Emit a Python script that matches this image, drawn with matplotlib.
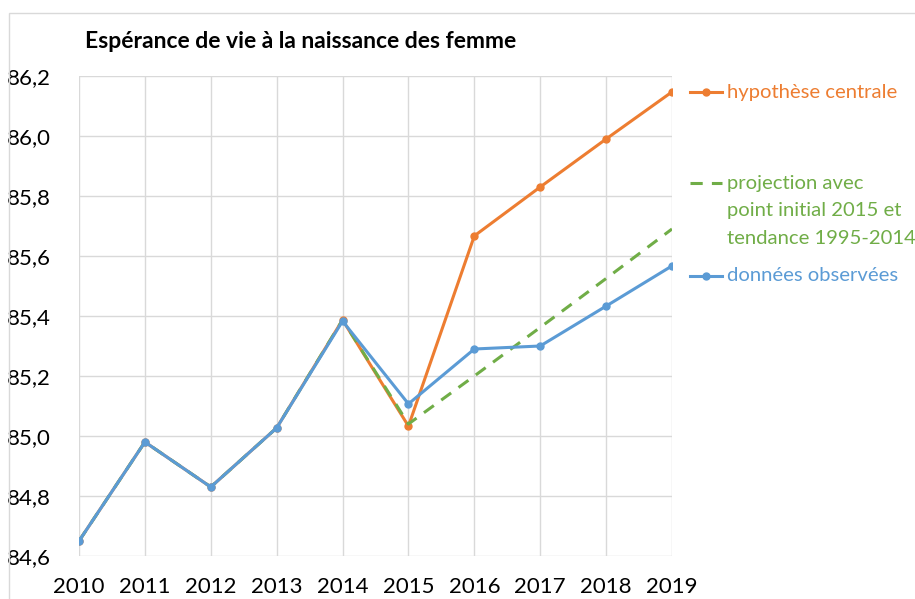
import matplotlib.pyplot as plt
from matplotlib.lines import Line2D
from matplotlib.patches import Rectangle

plt.rcParams['font.family'] = ['Lato', 'DejaVu Sans']

# Données
years = [2010, 2011, 2012, 2013, 2014, 2015, 2016, 2017, 2018, 2019]
observees = [84.65, 84.98, 84.83, 85.027, 85.383, 85.107, 85.29, 85.30, 85.433, 85.567]
hypothese = [84.65, 84.98, 84.83, 85.027, 85.387, 85.033, 85.667, 85.83, 85.99, 86.147]
projection = [84.65, 84.98, 84.83, 85.027, 85.387, 85.04, 85.20, 85.362, 85.525, 85.69]
yticks = [84.6, 84.8, 85.0, 85.2, 85.4, 85.6, 85.8, 86.0, 86.2]

orange = '#ED7D31'
green = '#70AD47'
blue = '#5B9BD5'

fig = plt.figure(figsize=(9.15, 5.99), dpi=100)
ax = fig.add_axes([79/915, 1 - 556/599, (672-79)/915, (556-76)/599])

# Rahmen des Diagramms (leicht grau)
fig.patches.append(Rectangle((9/915, -0.1), 1.2, 1 - 13/599 + 0.1, transform=fig.transFigure,
                             fill=False, edgecolor='#d9d9d9', linewidth=1))

ax.plot(years, hypothese, color=orange, lw=2.2, marker='o', ms=5, zorder=3)
ax.plot(years, projection, color=green, lw=2.2, ls=(0, (4, 3)), zorder=4)
ax.plot(years, observees, color=blue, lw=2.2, marker='o', ms=5, zorder=5)

ax.set_xlim(2010, 2019)
ax.set_ylim(84.6, 86.2)
ax.set_xticks(years)
ax.set_yticks(yticks)
ax.set_yticklabels([f'{v:.1f}'.replace('.', ',') for v in yticks])
ax.tick_params(length=0, labelsize=16, colors='black')
ax.tick_params(axis='y', pad=20)
ax.tick_params(axis='x', pad=15)
ax.grid(True, color='#d9d9d9', lw=1)
for s in ax.spines.values():
    s.set_visible(False)

fig.text(85/915, 1 - 42/599, 'Espérance de vie à la naissance des femme',
         fontsize=16.5, fontweight='bold', va='center', ha='left')

# Légende à droite
def legend_line(y, color, ls='-', marker='o'):
    fig.add_artist(Line2D([690/915, 722/915], [1 - y/599, 1 - y/599], color=color, lw=2.2,
                          ls=ls, transform=fig.transFigure))
    if marker:
        fig.add_artist(Line2D([706/915], [1 - y/599], color=color, marker=marker, ms=5,
                              transform=fig.transFigure))

fs = 14.6
legend_line(92, orange)
fig.text(727/915, 1 - 92/599, 'hypothèse centrale', color=orange, fontsize=fs, va='center')
legend_line(183, green, ls=(0, (4, 3)), marker=None)
fig.text(727/915, 1 - 183/599, 'projection avec', color=green, fontsize=fs, va='center')
fig.text(727/915, 1 - 211/599, 'point initial 2015 et', color=green, fontsize=fs, va='center')
fig.text(727/915, 1 - 239/599, 'tendance 1995-2014', color=green, fontsize=fs, va='center')
legend_line(276, blue)
fig.text(727/915, 1 - 276/599, 'données observées', color=blue, fontsize=fs, va='center')

fig.savefig('out.png', dpi=100)
